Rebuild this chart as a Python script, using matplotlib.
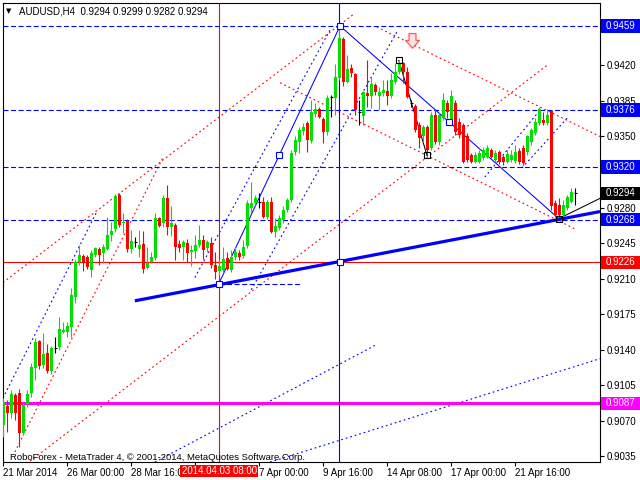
import matplotlib
matplotlib.use("Agg")
import matplotlib.pyplot as plt
import matplotlib.transforms as mtransforms
from matplotlib.patches import Rectangle
from matplotlib.path import Path
import numpy as np

plt.rcParams['font.family'] = ['Liberation Sans', 'DejaVu Sans']

# AUDUSD H4 bars (bar 0 = 21 Mar 2014 08:00)
opens = [
    0.9066, 0.9084, 0.9077, 0.9095, 0.9097, 0.9058, 0.9086, 0.9097, 0.9122, 0.9148, 0.9125, 0.9137,
    0.9119, 0.9141, 0.9142, 0.9157, 0.9157, 0.9162, 0.9192, 0.9226, 0.9232, 0.9231, 0.9218, 0.9233,
    0.9239, 0.9235, 0.9239, 0.9253, 0.9259, 0.9292, 0.9265, 0.9267, 0.9239, 0.9246, 0.9239, 0.9244,
    0.9220, 0.9226, 0.9230, 0.9270, 0.9265, 0.9289, 0.9261, 0.9263, 0.9244, 0.9241, 0.9245, 0.9236,
    0.9237, 0.9243, 0.9248, 0.9240, 0.9245, 0.9223, 0.9217, 0.9218, 0.9230, 0.9218, 0.9231, 0.9235,
    0.9232, 0.9242, 0.9280, 0.9284, 0.9285, 0.9285, 0.9271, 0.9285, 0.9256, 0.9260, 0.9268, 0.9278,
    0.9287, 0.9335, 0.9345, 0.9355, 0.9363, 0.9346, 0.9372, 0.9377, 0.9367, 0.9354, 0.9389, 0.9388,
    0.9408, 0.9446, 0.9404, 0.9418, 0.9412, 0.9374, 0.9370, 0.9393, 0.9390, 0.9401, 0.9390, 0.9393,
    0.9395, 0.9390, 0.9404, 0.9414, 0.9422, 0.9414, 0.9383, 0.9380, 0.9361, 0.9350, 0.9359, 0.9339,
    0.9371, 0.9345, 0.9368, 0.9383, 0.9366, 0.9383, 0.9364, 0.9361, 0.9350, 0.9332, 0.9325, 0.9325,
    0.9329, 0.9330, 0.9337, 0.9327, 0.9335, 0.9330, 0.9325, 0.9327, 0.9326, 0.9336, 0.9339, 0.9335,
    0.9345, 0.9353, 0.9363, 0.9366, 0.9363, 0.9375, 0.9284, 0.9282, 0.9273, 0.9280, 0.9285, 0.9294,
]
highs = [
    0.9092, 0.9090, 0.9100, 0.9097, 0.9101, 0.9087, 0.9100, 0.9127, 0.9151, 0.9149, 0.9156, 0.9145,
    0.9143, 0.9152, 0.9172, 0.9167, 0.9167, 0.9201, 0.9229, 0.9243, 0.9234, 0.9233, 0.9238, 0.9241,
    0.9241, 0.9244, 0.9271, 0.9266, 0.9293, 0.9294, 0.9275, 0.9269, 0.9258, 0.9251, 0.9258, 0.9257,
    0.9241, 0.9236, 0.9275, 0.9271, 0.9292, 0.9302, 0.9281, 0.9265, 0.9248, 0.9248, 0.9249, 0.9243,
    0.9253, 0.9263, 0.9253, 0.9248, 0.9251, 0.9236, 0.9228, 0.9241, 0.9236, 0.9238, 0.9241, 0.9238,
    0.9248, 0.9287, 0.9305, 0.9292, 0.9294, 0.9290, 0.9287, 0.9290, 0.9270, 0.9273, 0.9281, 0.9289,
    0.9337, 0.9350, 0.9359, 0.9363, 0.9365, 0.9386, 0.9383, 0.9379, 0.9369, 0.9391, 0.9391, 0.9421,
    0.9459, 0.9448, 0.9430, 0.9421, 0.9413, 0.9386, 0.9395, 0.9425, 0.9409, 0.9403, 0.9399, 0.9406,
    0.9406, 0.9413, 0.9422, 0.9425, 0.9423, 0.9419, 0.9386, 0.9382, 0.9364, 0.9361, 0.9361, 0.9374,
    0.9377, 0.9373, 0.9393, 0.9386, 0.9396, 0.9386, 0.9368, 0.9363, 0.9353, 0.9334, 0.9335, 0.9337,
    0.9340, 0.9342, 0.9339, 0.9337, 0.9337, 0.9332, 0.9337, 0.9337, 0.9342, 0.9339, 0.9342, 0.9351,
    0.9358, 0.9368, 0.9379, 0.9374, 0.9377, 0.9376, 0.9287, 0.9289, 0.9287, 0.9292, 0.9299, 0.9299,
]
lows = [
    0.9054, 0.9059, 0.9072, 0.9071, 0.9044, 0.9056, 0.9083, 0.9093, 0.9110, 0.9121, 0.9122, 0.9117,
    0.9116, 0.9137, 0.9140, 0.9156, 0.9152, 0.9152, 0.9186, 0.9223, 0.9217, 0.9219, 0.9211, 0.9231,
    0.9223, 0.9225, 0.9238, 0.9247, 0.9256, 0.9261, 0.9255, 0.9236, 0.9235, 0.9241, 0.9231, 0.9215,
    0.9219, 0.9225, 0.9228, 0.9261, 0.9261, 0.9253, 0.9252, 0.9228, 0.9236, 0.9228, 0.9226, 0.9222,
    0.9230, 0.9241, 0.9229, 0.9236, 0.9220, 0.9210, 0.9213, 0.9216, 0.9218, 0.9216, 0.9228, 0.9228,
    0.9230, 0.9240, 0.9276, 0.9282, 0.9280, 0.9270, 0.9269, 0.9255, 0.9251, 0.9258, 0.9265, 0.9276,
    0.9285, 0.9332, 0.9334, 0.9351, 0.9335, 0.9344, 0.9369, 0.9368, 0.9344, 0.9351, 0.9369, 0.9371,
    0.9406, 0.9400, 0.9403, 0.9409, 0.9371, 0.9361, 0.9361, 0.9379, 0.9378, 0.9391, 0.9376, 0.9390,
    0.9381, 0.9388, 0.9402, 0.9412, 0.9403, 0.9388, 0.9379, 0.9354, 0.9339, 0.9345, 0.9332, 0.9337,
    0.9343, 0.9342, 0.9366, 0.9368, 0.9364, 0.9351, 0.9349, 0.9324, 0.9325, 0.9324, 0.9324, 0.9324,
    0.9327, 0.9329, 0.9329, 0.9325, 0.9323, 0.9322, 0.9324, 0.9325, 0.9324, 0.9323, 0.9322, 0.9332,
    0.9342, 0.9351, 0.9361, 0.9361, 0.9361, 0.9278, 0.9271, 0.9268, 0.9271, 0.9278, 0.9284, 0.9282,
]
closes = [
    0.9088, 0.9077, 0.9096, 0.9077, 0.9058, 0.9085, 0.9096, 0.9123, 0.9147, 0.9124, 0.9136, 0.9119,
    0.9141, 0.9141, 0.9160, 0.9159, 0.9163, 0.9194, 0.9226, 0.9233, 0.9226, 0.9221, 0.9235, 0.9240,
    0.9233, 0.9241, 0.9253, 0.9257, 0.9291, 0.9263, 0.9266, 0.9239, 0.9247, 0.9246, 0.9243, 0.9219,
    0.9225, 0.9231, 0.9270, 0.9262, 0.9289, 0.9261, 0.9265, 0.9241, 0.9240, 0.9246, 0.9235, 0.9238,
    0.9243, 0.9248, 0.9238, 0.9246, 0.9223, 0.9216, 0.9222, 0.9229, 0.9219, 0.9231, 0.9236, 0.9231,
    0.9241, 0.9284, 0.9284, 0.9289, 0.9285, 0.9271, 0.9285, 0.9256, 0.9262, 0.9270, 0.9278, 0.9287,
    0.9334, 0.9347, 0.9356, 0.9359, 0.9347, 0.9374, 0.9377, 0.9369, 0.9354, 0.9388, 0.9389, 0.9409,
    0.9447, 0.9404, 0.9417, 0.9413, 0.9376, 0.9374, 0.9394, 0.9390, 0.9402, 0.9394, 0.9394, 0.9396,
    0.9390, 0.9406, 0.9414, 0.9421, 0.9414, 0.9389, 0.9383, 0.9356, 0.9349, 0.9359, 0.9337, 0.9371,
    0.9345, 0.9371, 0.9386, 0.9374, 0.9390, 0.9354, 0.9351, 0.9325, 0.9327, 0.9325, 0.9332, 0.9334,
    0.9337, 0.9339, 0.9330, 0.9334, 0.9325, 0.9325, 0.9333, 0.9332, 0.9335, 0.9325, 0.9324, 0.9350,
    0.9356, 0.9364, 0.9377, 0.9363, 0.9371, 0.9281, 0.9273, 0.9273, 0.9282, 0.9290, 0.9295, 0.9294,
]

# "2 Apr 08:00" and the 0.9455 / 0.9315 marks sit under the coloured tags
time_ticks = [0, 16, 32, 48, 64, 80, 96, 112, 128]
time_labels = ["21 Mar 2014", "26 Mar 00:00", "28 Mar 16:00", "", "7 Apr 00:00",
               "9 Apr 16:00", "14 Apr 08:00", "17 Apr 00:00", "21 Apr 16:00"]
price_ticks = [0.9035, 0.9070, 0.9105, 0.9140, 0.9175, 0.9210, 0.9245,
               0.9280, 0.9315, 0.9350, 0.9385, 0.9420, 0.9455]
hidden_ticks = [0.9315, 0.9455]

# horizontal levels
blue_levels = [0.9459, 0.9376, 0.9320, 0.9268]
red_level = 0.9226
pink_level = 0.9087
level_tags = [(0.9459, "#0000ff"), (0.9376, "#0000ff"), (0.9320, "#0000ff"), (0.9294, "black"),
              (0.9268, "#0000ff"), (0.9226, "#ff0000"), (0.9087, "#ff00ff")]

# chart objects, end points as (bar, price)
red_dots = [((-0.1, 0.9206), (87.4, 0.9470)), ((2.9, 0.9039), (39.9, 0.9329)),
            ((6.7, 0.9030), (135.9, 0.9420)), ((93.4, 0.9458), (149.2, 0.9350)),
            ((69.2, 0.9403), (143.4, 0.9258))]
blue_dots = [((-0.1, 0.9092), (23.4, 0.9276)), ((47.9, 0.9211), (81.7, 0.9455)),
             ((62.0, 0.9199), (98.4, 0.9453)), ((37.9, 0.9029), (92.9, 0.9144)),
             ((66.7, 0.9029), (149.2, 0.9131)), ((120.4, 0.9310), (134.2, 0.9376)),
             ((129.7, 0.9319), (141.2, 0.9369))]
blue_solid = [((53.9, 0.9205), (84.2, 0.9459)), ((84.2, 0.9459), (138.9, 0.9269))]
black_solid = [((98.9, 0.9425), (105.9, 0.9332)), ((138.9, 0.9269), (149.2, 0.9289))]
support_line = ((32.9, 0.9188), (149.2, 0.9276))
short_dash = ((53.9, 0.9205), (74.2, 0.9205))
blue_marks = [(53.9, 0.9205), (68.9, 0.9332), (84.2, 0.9459), (84.2, 0.9226), (111.4, 0.9364)]
black_marks = [(98.9, 0.9425), (105.9, 0.9332), (138.9, 0.9269)]
red_vline, blue_vline = 54, 84
arrow_at = (102.2, 0.9445)

GREEN, RED, BLUE = "#00e000", "#ff0000", "#0000ff"
DOT = (0, (1.6, 2.6))
DASH = (0, (4.5, 2.3))

fig = plt.figure(figsize=(6.4, 4.8), dpi=100)
ax = fig.add_axes([2.7 / 640, 18.3 / 480, 597.3 / 640, 459 / 480])
ax.set_xlim(-0.15, 149.2)
ax.set_ylim(0.90294, 0.94819)

o, h, l, c = (np.array(v) for v in (opens, highs, lows, closes))
x = np.arange(len(o))
up, dn, flat = c > o, c < o, c == o

# objects behind the bars
for (x0, y0), (x1, y1) in red_dots:
    ax.plot([x0, x1], [y0, y1], color=RED, lw=0.8, ls=DOT, zorder=2)
for (x0, y0), (x1, y1) in blue_dots:
    ax.plot([x0, x1], [y0, y1], color=BLUE, lw=0.8, ls=DOT, zorder=2)
for (x0, y0), (x1, y1) in blue_solid:
    ax.plot([x0, x1], [y0, y1], color=BLUE, lw=0.75, zorder=2)
for (x0, y0), (x1, y1) in black_solid:
    ax.plot([x0, x1], [y0, y1], color="black", lw=0.75, zorder=2)
for p in blue_levels:
    ax.axhline(p, color=BLUE, lw=0.8, ls=DASH, zorder=2)
ax.axhline(red_level, color=RED, lw=0.8, zorder=2)
ax.axhline(pink_level, color="#ff00ff", lw=2.2, zorder=2)
ax.axvline(red_vline, color=RED, lw=0.8, zorder=2)
ax.axvline(blue_vline, color=BLUE, lw=0.8, zorder=2)
ax.plot(*zip(*short_dash), color=BLUE, lw=0.8, ls=DASH, zorder=2)

# candles
for m, col in ((up, GREEN), (dn, RED), (flat, "black")):
    ax.vlines(x[m], l[m], h[m], color=col, lw=0.8, zorder=4)
ax.bar(x[up], c[up] - o[up], bottom=o[up], width=0.72, color=GREEN, lw=0, zorder=5)
ax.bar(x[dn], o[dn] - c[dn], bottom=c[dn], width=0.72, color=RED, lw=0, zorder=5)
ax.hlines(c[flat], x[flat] - 0.4, x[flat] + 0.4, color="black", lw=0.8, zorder=5)

ax.plot(*zip(*support_line), color=BLUE, lw=2.3, zorder=6, solid_capstyle="butt")
ax.plot(*zip(*blue_marks), ls="none", marker="s", ms=4, mfc="white", mec=BLUE, mew=0.8, zorder=7)
ax.plot(*zip(*black_marks), ls="none", marker="s", ms=4, mfc="none", mec="black", mew=0.8, zorder=7)

# outlined "sell" arrow
arrow = Path([(-0.25, 0.5), (0.25, 0.5), (0.25, 0.0), (0.5, 0.0), (0.0, -0.55),
              (-0.5, 0.0), (-0.25, 0.0), (-0.25, 0.5)], closed=True)
ax.plot(*arrow_at, marker=arrow, ms=11, mfc="#ffe0e0", mec="#ff5a5a", mew=0.9, zorder=7)

# axes look
for s in ax.spines.values():
    s.set_color("black")
    s.set_linewidth(0.8)
ax.yaxis.tick_right()
ax.set_yticks(price_ticks)
ax.set_yticklabels(["" if p in hidden_ticks else f"{p:.4f}" for p in price_ticks])
ax.set_xticks(time_ticks)
ax.set_xticklabels(time_labels, ha="left")
ax.tick_params(axis="y", length=3, width=0.8, pad=2, labelsize=7)
ax.tick_params(axis="x", length=3, width=0.8, pad=1.5, labelsize=7)

# price tags on the scale
tr = mtransforms.blended_transform_factory(ax.transAxes, ax.transData)
for p, col in level_tags:
    ax.add_patch(Rectangle((1.0017, p - 0.00066), 0.0653, 0.00132, transform=tr,
                           facecolor=col, edgecolor="none", clip_on=False, zorder=8))
    ax.text(1.010, p, f"{p:.4f}", transform=tr, color="white", fontsize=7,
            va="center", ha="left", clip_on=False, zorder=9)

# highlighted time tag
tx = mtransforms.blended_transform_factory(ax.transData, ax.transAxes)
ax.add_patch(Rectangle((44.2, -0.0333), 19.5, 0.0261, transform=tx, facecolor=RED,
                       edgecolor="none", clip_on=False, zorder=8))
ax.text(red_vline, -0.0205, "2014.04.03 08:00", transform=tx, color="white", fontsize=7,
        ha="center", va="center", clip_on=False, zorder=9)

fig.text(6 / 640, 1 - 11 / 480, "\u25bc", family="DejaVu Sans", fontsize=5, va="center")
fig.text(19 / 640, 1 - 11 / 480, "AUDUSD,H4  0.9294 0.9299 0.9282 0.9294", fontsize=7, va="center")
ax.text(7 / 597.3, 1 - 455 / 459, "RoboForex - MetaTrader 4, \u00a9 2001-2014, MetaQuotes Software Corp.",
        transform=ax.transAxes, fontsize=6.8, va="center", zorder=9)

fig.savefig("out.png", dpi=100)
